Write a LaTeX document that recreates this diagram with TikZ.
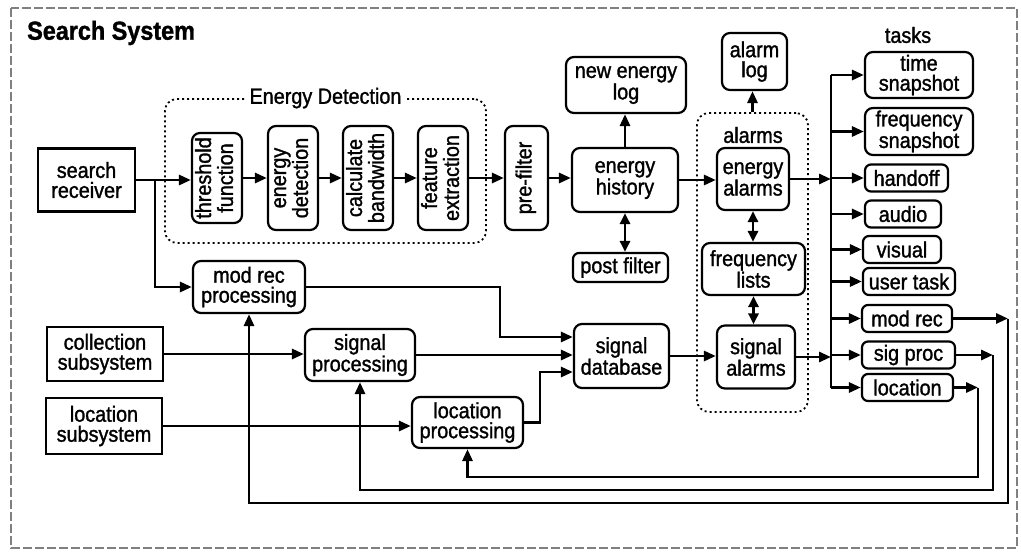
\documentclass[tikz,border=0pt]{standalone}
\usepackage{fontspec}
\setmainfont{Liberation Sans}[FakeStretch=0.9, FakeBold=1.3]
\usepackage{graphicx}
\usetikzlibrary{arrows.meta}
\newcommand{\vlabel}[1]{\rotatebox{90}{\begin{tabular}{@{}c@{}}#1\end{tabular}}}
\tikzset{
	box/.style={draw, line width=2.2pt, align=center, inner sep=1pt, font=\fontsize{22}{20}\selectfont},
	rbox/.style={box, rounded corners=8pt},
	tbox/.style={box, rounded corners=6pt, minimum height=27pt},
	grp/.style={draw, line width=1.8pt, dash pattern=on 2pt off 3pt, rounded corners=12pt},
	wire/.style={line width=2.9pt},
	link/.style={wire, -{Triangle[length=12pt, width=10pt]}},
	both/.style={wire, {Triangle[length=11pt, width=10pt]}-{Triangle[length=11pt, width=10pt]}},
	lbl/.style={font=\fontsize{22}{20}\selectfont, inner sep=2pt}
}

\begin{document}
\begin{tikzpicture}[x=1pt, y=-1pt]
		%%%%% START %%%%%
		\useasboundingbox (0, 0) rectangle (1021, 552);
		\draw[line width=2pt, color=black!50, dash pattern=on 9pt off 3pt] (11, 8) rectangle (1017, 548);
		\node[anchor=west, inner sep=0pt, font=\fontsize{26}{26}\selectfont\bfseries] (title) at (27, 33) {Search System};
		
		% groups
		\node[grp, minimum width=321pt, minimum height=144pt] (edgrp) at (325.5, 171) {};
		\node[lbl, fill=white, inner sep=4pt] (edlbl) at (edgrp.north) {Energy Detection};
		\node[grp, minimum width=111pt, minimum height=299pt] (alarms) at (752.5, 262.5) {};
		\node[lbl] (alarmslbl) at (753, 135) {alarms};
		\node[lbl] (taskslbl) at (908, 35) {tasks};
		
		% front end
		\node[box, minimum width=97pt, minimum height=63pt] (srch) at (86.5, 180) {search\\receiver};
		\node[rbox, minimum width=50pt, minimum height=90pt] (thr) at (217, 178) {\vlabel{threshold\\function}};
		\node[rbox, minimum width=50pt, minimum height=104pt] (edet) at (293, 178) {\vlabel{energy\\detection}};
		\node[rbox, minimum width=50pt, minimum height=104pt] (cbw) at (368, 178) {\vlabel{calculate\\bandwidth}};
		\node[rbox, minimum width=50pt, minimum height=104pt] (fext) at (443, 178) {\vlabel{feature\\extraction}};
		\node[rbox, minimum width=43pt, minimum height=104pt] (pref) at (526.5, 178) {\vlabel{pre-filter}};
		\node[rbox, minimum width=106pt, minimum height=64pt] (ehist) at (625, 180) {energy\\history};
		\node[rbox, minimum width=120pt, minimum height=56pt] (nelog) at (626, 85) {new energy\\log};
		\node[rbox, rounded corners=6pt, minimum width=95pt, minimum height=29pt] (pfilt) at (620.5, 267.5) {post filter};
		
		% alarms
		\node[rbox, minimum width=65pt, minimum height=57pt] (alog) at (754.5, 61.5) {alarm\\log};
		\node[rbox, minimum width=72pt, minimum height=62pt] (ealarm) at (753, 179) {energy\\alarms};
		\node[rbox, minimum width=103pt, minimum height=52pt] (flists) at (753.5, 269) {frequency\\lists};
		\node[rbox, minimum width=78pt, minimum height=63pt] (salarm) at (756, 357) {signal\\alarms};
		\node[rbox, minimum width=95pt, minimum height=64pt] (sdb) at (621.5, 356) {signal\\database};
		
		% processing
		\node[rbox, minimum width=112pt, minimum height=52pt] (modproc) at (249, 287) {mod rec\\processing};
		\node[box, minimum width=116pt, minimum height=54pt] (colsub) at (105, 354) {collection\\subsystem};
		\node[box, minimum width=116pt, minimum height=56pt] (locsub) at (104, 426) {location\\subsystem};
		\node[rbox, minimum width=110pt, minimum height=52pt] (sigproc) at (360, 355) {signal\\processing};
		\node[rbox, minimum width=111pt, minimum height=51pt] (locproc) at (467.5, 422.5) {location\\processing};
		
		% tasks
		\node[rbox, minimum width=108pt, minimum height=46pt] (tsnap) at (919, 75) {time\\snapshot};
		\node[rbox, minimum width=108pt, minimum height=47pt] (fsnap) at (919, 131.5) {frequency\\snapshot};
		\node[tbox, minimum width=83pt] (hoff) at (906.5, 178) {handoff};
		\node[tbox, minimum width=76pt] (audio) at (903, 214) {audio};
		\node[tbox, minimum width=78pt] (visual) at (902, 249.5) {visual};
		\node[tbox, minimum width=92pt] (utask) at (909, 281.5) {user task};
		\node[tbox, minimum width=90pt] (mrec) at (907, 318.5) {mod rec};
		\node[tbox, minimum width=93pt] (sproc) at (908.5, 355) {sig proc};
		\node[tbox, minimum width=91pt] (loc) at (907.5, 387.5) {location};
		
		\coordinate (jn) at (155, 180);
		\coordinate (k1) at (500, 337);
		\coordinate (k2) at (540, 372);
		\coordinate (bus) at (831, 75);
		\coordinate (r1) at (1008, 503);
		\coordinate (r2) at (993, 490);
		\coordinate (r3) at (978, 477);
		
		% energy chain
		\draw[link] (srch.east) -- (srch.east -| thr.west);
		\draw[link] (thr.east) -- (edet.west);
		\draw[link] (edet.east) -- (cbw.west);
		\draw[link] (cbw.east) -- (fext.west);
		\draw[link] (fext.east) -- (pref.west);
		\draw[link] (pref.east) -- (pref.east -| ehist.west);
		\draw[link] (ehist.east) -- (ehist.east -| ealarm.west);
		\draw[link] (ehist.north) -- (ehist.north |- nelog.south);
		\draw[both] (ehist.south) -- (ehist.south |- pfilt.north);
		\draw[link] (alarms.north) -- (alarms.north |- alog.south);
		\draw[both] (ealarm.south) -- (ealarm.south |- flists.north);
		\draw[both] (flists.south) -- (flists.south |- salarm.north);
		\draw[link] (jn) |- (modproc.west);
		
		% into the database
		\draw[link] (modproc.east) -| (k1) -- (k1 -| sdb.west);
		\draw[link] (sigproc.east) -- (sigproc.east -| sdb.west);
		\draw[link] (locproc.east) -| (k2) -- (k2 -| sdb.west);
		\draw[link] (colsub.east) -- (colsub.east -| sigproc.west);
		\draw[link] (locsub.east) -- (locsub.east -| locproc.west);
		\draw[link] (sdb.east) -- (sdb.east -| salarm.west);
		
		% tasks bus
		\draw[link] (ealarm.east) -- (ealarm.east -| bus);
		\draw[link] (salarm.east) -- (salarm.east -| bus);
		\draw[wire] (bus) -- (bus |- loc.west);
		\foreach \t in {tsnap, fsnap, hoff, audio, visual, utask, mrec, sproc, loc}
			\draw[link] (bus |- \t.west) -- (\t.west);
		
		% feedback
		\draw[link] (mrec.east) -- (mrec.east -| r1);
		\draw[link] (mrec.east -| r1) -- (r1) -| (modproc.south);
		\draw[link] (sproc.east) -- (sproc.east -| r2);
		\draw[link] (sproc.east -| r2) -- (r2) -| (sigproc.south);
		\draw[link] (loc.east) -- (loc.east -| r3);
		\draw[link] (loc.east -| r3) -- (r3) -| (locproc.south);
		
		%%%%% END %%%%%
\end{tikzpicture}
\end{document}
